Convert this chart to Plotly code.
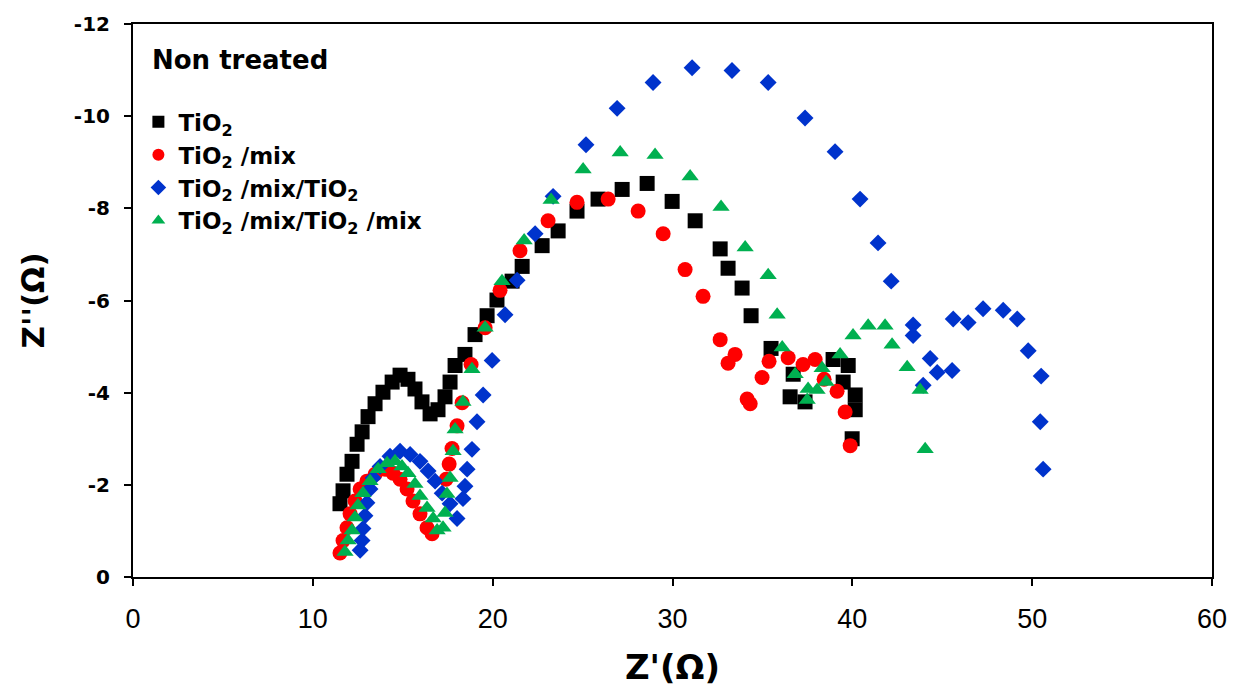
import plotly.graph_objects as go

# ---- data ----
tio2_x = [11.51, 11.68, 11.90, 12.18, 12.46, 12.74, 13.07, 13.46, 13.90, 14.41, 14.85, 15.29, 15.68,
          16.07, 16.52, 16.96, 17.35, 17.63, 17.91, 18.46, 19.02, 19.69, 20.24, 21.08, 21.64, 22.75,
          23.64, 24.69, 25.86, 27.20, 28.59, 29.98, 31.26, 32.65, 33.09, 33.87, 34.37, 35.48, 36.71,
          36.54, 37.37, 38.93, 39.77, 39.49, 40.16, 40.16, 39.99]
tio2_y = [-1.59, -1.87, -2.23, -2.51, -2.88, -3.15, -3.48, -3.76, -4.01, -4.23, -4.38, -4.29, -4.08,
          -3.80, -3.54, -3.63, -3.91, -4.23, -4.59, -4.83, -5.26, -5.67, -6.01, -6.42, -6.74, -7.19,
          -7.51, -7.94, -8.20, -8.41, -8.54, -8.15, -7.73, -7.12, -6.70, -6.27, -5.67, -4.96, -4.40,
          -3.91, -3.80, -4.72, -4.59, -4.23, -3.95, -3.63, -3.00]

mix_x = [11.51, 11.68, 11.90, 12.07, 12.35, 12.63, 13.01, 13.46, 14.02, 14.46, 14.85, 15.24, 15.57,
         15.96, 16.35, 16.63, 17.41, 17.58, 17.74, 18.02, 18.30, 18.80, 19.58, 20.41, 21.52, 23.08,
         24.69, 26.42, 28.09, 29.48, 30.70, 31.70, 32.65, 33.48, 33.09, 34.15, 34.32, 34.98, 35.37,
         36.43, 37.26, 37.93, 38.43, 39.15, 39.60, 39.88]
mix_y = [-0.52, -0.79, -1.07, -1.37, -1.65, -1.91, -2.08, -2.23, -2.34, -2.25, -2.12, -1.91, -1.65,
         -1.37, -1.07, -0.94, -2.12, -2.45, -2.79, -3.28, -3.78, -4.61, -5.41, -6.22, -7.08, -7.73,
         -8.13, -8.20, -7.94, -7.45, -6.67, -6.09, -5.15, -4.83, -4.64, -3.86, -3.76, -4.33, -4.68,
         -4.76, -4.61, -4.72, -4.29, -4.03, -3.58, -2.85]

mixtio2_x = [12.63, 12.74, 12.79, 12.90, 13.01, 13.18, 13.35, 13.74, 14.29, 14.85, 15.41, 15.96, 16.41,
             16.80, 17.19, 17.63, 18.02, 18.35, 18.46, 18.58, 18.85, 19.13, 19.47, 19.97, 20.69, 21.36,
             22.36, 23.36, 25.19, 26.92, 28.92, 31.09, 33.31, 35.32, 37.37, 39.04, 40.43, 41.43, 42.16,
             43.38, 43.38, 44.33, 43.94, 44.72, 45.55, 45.61, 46.44, 47.27, 48.39, 49.17, 49.78, 50.50,
             50.45, 50.61]
mixtio2_y = [-0.58, -0.79, -1.05, -1.33, -1.61, -1.91, -2.15, -2.40, -2.62, -2.73, -2.66, -2.51, -2.30,
             -2.08, -1.82, -1.59, -1.27, -1.70, -1.97, -2.34, -2.77, -3.37, -3.95, -4.70, -5.69, -6.44,
             -7.45, -8.26, -9.38, -10.17, -10.73, -11.05, -10.99, -10.73, -9.96, -9.23, -8.20, -7.25, -6.42,
             -5.47, -5.24, -4.74, -4.16, -4.44, -4.48, -5.60, -5.52, -5.82, -5.79, -5.60, -4.91, -4.36,
             -3.37, -2.34]

mixtio2mix_x = [11.79, 11.96, 12.18, 12.35, 12.51, 12.79, 13.18, 13.63, 14.13, 14.57, 14.96, 15.29, 15.68,
                15.96, 16.35, 16.69, 16.91, 17.24, 17.35, 17.46, 17.63, 17.80, 17.91, 18.35, 18.85, 19.58,
                20.52, 21.75, 23.25, 25.03, 27.09, 29.03, 30.98, 32.70, 34.04, 35.32, 35.82, 36.10, 36.82,
                37.54, 37.49, 38.04, 38.32, 38.54, 39.32, 40.04, 40.88, 41.82, 42.21, 43.05, 43.77, 44.05]
mixtio2mix_y = [-0.54, -0.79, -1.01, -1.29, -1.55, -1.82, -2.08, -2.34, -2.47, -2.51, -2.40, -2.25, -2.02,
                -1.76, -1.50, -1.27, -1.01, -1.07, -1.39, -1.80, -2.15, -2.73, -3.20, -3.80, -4.51, -5.41,
                -6.42, -7.30, -8.18, -8.84, -9.21, -9.16, -8.69, -8.03, -7.15, -6.55, -5.69, -4.98, -4.40,
                -4.08, -3.84, -4.06, -4.53, -4.23, -4.83, -5.24, -5.45, -5.45, -5.04, -4.55, -4.06, -2.77]

series_names = ["TiO<sub>2</sub>", "TiO<sub>2</sub> /mix", "TiO<sub>2</sub> /mix/TiO<sub>2</sub>",
                "TiO<sub>2</sub> /mix/TiO<sub>2</sub> /mix"]
x_ticks = [0, 10, 20, 30, 40, 50, 60]
y_ticks = [0, -2, -4, -6, -8, -10, -12]
y_tick_labels = ["0", "-2", "-4", "-6", "-8", "-10", "-12"]

# ---- figure ----
fig = go.Figure()
styles = [
    (tio2_x, tio2_y, "square", "#000000", 15),
    (mix_x, mix_y, "circle", "#FF0000", 15),
    (mixtio2_x, mixtio2_y, "diamond", "#0033CC", 13),
    (mixtio2mix_x, mixtio2mix_y, "triangle-up", "#00B050", 15),
]
for name, (xs, ys, sym, col, sz) in zip(series_names, styles):
    fig.add_trace(go.Scatter(x=xs, y=ys, mode="markers", name=name,
                             marker=dict(symbol=sym, color=col, size=sz, line=dict(width=0))))

fig.update_layout(
    width=1241, height=698,
    margin=dict(l=133, r=29, t=18, b=121),
    paper_bgcolor="white", plot_bgcolor="white",
    font=dict(family="DejaVu Sans", color="black"),
    showlegend=True,
    legend=dict(x=0.005, y=0.862, xanchor="left", yanchor="top",
                font=dict(family="DejaVu Sans", size=23, color="black", weight="bold"),
                itemsizing="constant", bgcolor="rgba(0,0,0,0)", tracegroupgap=0),
    annotations=[dict(text="<b>Non treated</b>", x=0.016, y=0.935, xref="paper", yref="paper",
                      xanchor="left", yanchor="middle", showarrow=False,
                      font=dict(family="DejaVu Sans", size=26, color="black"))],
)
fig.update_xaxes(range=[0, 60], tickvals=x_ticks, showgrid=False, zeroline=False,
                 showline=True, linecolor="black", linewidth=2, mirror=True,
                 ticks="outside", ticklen=7, tickwidth=1.5, tickcolor="black",
                 ticklabelstandoff=10,
                 tickfont=dict(family="Liberation Sans Narrow, Liberation Sans", size=27, color="black"),
                 title=dict(text="<b>Z'(Ω)</b>", standoff=22,
                            font=dict(family="DejaVu Sans", size=34, color="black")))
fig.update_yaxes(range=[0, -12], tickvals=y_ticks, ticktext=y_tick_labels, showgrid=False, zeroline=False,
                 showline=True, linecolor="black", linewidth=2, mirror=True,
                 ticks="outside", ticklen=7, tickwidth=1.5, tickcolor="black",
                 ticklabelstandoff=10,
                 tickfont=dict(family="DejaVu Sans", size=20, color="black", weight="bold"),
                 title=dict(text="<b>Z''(Ω)</b>", standoff=20,
                            font=dict(family="DejaVu Sans", size=31, color="black")))

fig.write_html("out.html")
